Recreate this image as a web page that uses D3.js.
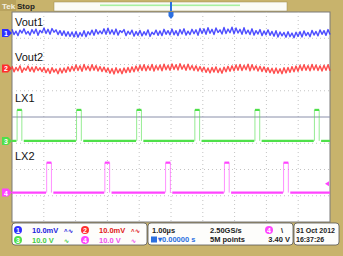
<!DOCTYPE html>
<html>
<head>
<meta charset="utf-8">
<script src="https://cdn.jsdelivr.net/npm/d3@7"></script>
<style>
  body { margin: 0; background: #c8b36c; }
  svg { display: block; font-family: "Liberation Sans", Arial, sans-serif; }
</style>
</head>
<body>
<svg id="scope"></svg>
<script>
// ripple on the two outputs, mV, one sample every 10/159 us across the screen
var vout1 = [
  1.4,-0.6,0.7,-1.0,1.1,0.0,1.6,-0.4,0.6,-0.8,1.3,-0.2,1.5,-0.9,1.0,0.1,
  1.9,-0.2,1.4,-0.5,1.7,0.3,1.2,-0.6,0.9,-0.9,0.8,-1.2,0.5,-1.3,0.4,-1.5,
  0.6,-1.6,0.2,-1.2,0.9,-1.4,0.5,-0.7,1.1,-0.9,1.3,-0.4,0.8,-0.3,1.6,-0.5,
  1.8,-0.4,1.2,-0.6,1.5,-0.8,0.9,0.2,1.3,-1.0,0.7,-0.5,1.1,-1.2,0.6,-0.9,
  1.0,-1.1,0.5,-0.8,1.2,-1.3,0.3,-0.6,1.1,-0.9,0.8,-1.0,1.4,-0.5,0.9,-0.7,
  1.5,-0.7,0.9,-1.0,1.3,-0.4,1.6,-0.8,0.7,-0.6,1.4,-0.3,1.2,-0.9,1.7,-0.2,
  1.6,-0.5,2.0,-0.1,1.4,-0.6,1.9,0.2,1.2,-0.4,2.1,-0.2,1.5,0.1,2.2,-0.3,
  1.9,0.0,1.4,-0.5,2.0,-0.3,1.1,-0.6,1.6,-0.8,0.9,-0.4,1.3,-1.0,0.8,-0.7,
  1.2,-0.9,0.6,-1.2,0.9,-1.5,0.4,-1.1,0.2,-1.6,0.5,-1.4,0.0,-1.8,0.3,-1.3,
  0.5,-1.5,0.8,-1.0,0.2,-1.4,1.0,-0.8,0.6,-1.1,1.2,-0.5,0.9,-0.9,1.3,-0.6
]
var vout2 = [
  0.8,-1.3,0.4,-0.9,1.0,-1.5,0.2,-0.7,0.9,-1.1,0.5,-1.4,0.7,-0.8,0.3,-1.2,
  0.4,-1.6,0.0,-1.9,0.3,-1.4,-0.2,-2.0,0.1,-1.7,0.2,-1.5,0.6,-1.2,0.8,-0.9,
  1.3,-0.8,1.0,-1.1,1.5,-0.6,0.9,-0.9,1.4,-0.7,1.1,-1.0,0.7,-1.2,0.5,-1.4,
  0.2,-1.8,0.0,-2.1,0.3,-1.7,-0.1,-2.0,0.2,-1.6,0.4,-1.5,0.6,-1.3,0.9,-1.0,
  1.2,-0.8,1.4,-0.9,1.0,-0.7,1.5,-1.0,1.1,-0.6,1.3,-0.9,1.6,-0.5,1.2,-0.7,
  1.7,-0.4,1.4,-0.6,1.8,-0.3,1.3,-0.7,1.6,-0.5,1.1,-0.8,1.0,-1.0,0.7,-1.2,
  0.5,-1.5,0.2,-1.7,0.4,-1.4,0.6,-1.6,0.1,-1.8,0.5,-1.3,0.8,-1.1,1.0,-0.9,
  1.3,-0.7,1.5,-0.8,1.2,-0.5,1.6,-0.9,1.4,-0.6,1.0,-1.0,0.8,-1.2,0.6,-1.4,
  0.3,-1.6,0.1,-1.9,0.2,-1.8,-0.1,-2.0,0.3,-1.7,0.4,-1.5,0.7,-1.3,0.9,-1.1,
  1.2,-0.8,1.4,-0.7,1.1,-0.9,1.5,-0.6,1.3,-0.8,1.0,-1.0,1.2,-0.7,1.4,-0.9
]

// switching nodes: rising edges in us, pulse width in us, levels in V
var lx1Edges = [-4.84, -2.97, -1.08, 0.75, 2.64, 4.51]
var lx2Edges = [-3.91, -2.08, -0.17, 1.68, 3.54]
var lx1High = 11.8, lx2High = 11.4
var pulseWidth = 0.15

// channel settings: volts (or mV) per division and position in divisions
var channels = [
  {id: "1", name: "Vout1", color: "#2e2eff", text: "#2222dd", perDiv: 10, pos: 3.2},
  {id: "2", name: "Vout2", color: "#ff2e2e", text: "#e01818", perDiv: 10, pos: 1.85},
  {id: "3", name: "LX1", color: "#4fe04a", text: "#44cc44", perDiv: 10, pos: -0.91},
  {id: "4", name: "LX2", color: "#ff44ff", text: "#f050f0", perDiv: 10, pos: -2.88}
]
var scaleLabels = ["10.0mV", "10.0mV", "10.0 V", "10.0 V"]
var triggerLevel = 3.40

var width = 343, height = 256
var plot = {left: 12, top: 12, right: 330, bottom: 222}

var svg = d3.select("#scope").attr("width", width).attr("height", height)

var xScale = d3.scaleLinear().domain([-5, 5]).range([plot.left, plot.right])
var yDiv = d3.scaleLinear().domain([-4, 4]).range([plot.bottom, plot.top])

function yOf(ch, v) { return yDiv(ch.pos + v / ch.perDiv) }

// khaki frame
svg.append("rect").attr("width", width).attr("height", height).attr("fill", "#c8b36c")

// top status bar
svg.append("rect").attr("x", 0).attr("y", 0).attr("width", 16).attr("height", 11).attr("fill", "#b9a35e")
svg.append("text").attr("x", 2).attr("y", 9).attr("font-size", 8).attr("font-weight", "bold")
  .attr("fill", "#f4f0e0").text("Tek")
svg.append("text").attr("x", 17).attr("y", 9).attr("font-size", 8).attr("font-weight", "bold")
  .attr("fill", "#222").text("Stop")
svg.append("rect").attr("x", 54).attr("y", 2).attr("width", 233).attr("height", 9)
  .attr("fill", "#fbfbf6").attr("stroke", "#9a8a50").attr("stroke-width", 0.5)
svg.append("rect").attr("x", 100).attr("y", 4.5).attr("width", 140).attr("height", 1.6).attr("fill", "#a8f0a0")

// graticule
var g = svg.append("g")
g.append("rect").attr("x", plot.left).attr("y", plot.top)
  .attr("width", plot.right - plot.left).attr("height", plot.bottom - plot.top)
  .attr("fill", "#ffffff").attr("stroke", "#7a7a7a").attr("stroke-width", 1)

g.selectAll(".vgrid").data(d3.range(-4, 5)).enter().append("line")
  .attr("x1", d => xScale(d)).attr("x2", d => xScale(d))
  .attr("y1", plot.top).attr("y2", plot.bottom)
  .attr("stroke", "#c4c4c4").attr("stroke-dasharray", "1,3")
g.selectAll(".hgrid").data(d3.range(-3, 4)).enter().append("line")
  .attr("y1", d => yDiv(d)).attr("y2", d => yDiv(d))
  .attr("x1", plot.left).attr("x2", plot.right)
  .attr("stroke", d => d === 0 ? "#8a90aa" : "#c4c4c4")
  .attr("stroke-dasharray", d => d === 0 ? null : "1,3")

// ripple traces
var dt = 10 / (vout1.length - 1)
var rippleLine = function (ch) {
  return d3.line().x((d, i) => xScale(-5 + i * dt)).y(d => yOf(ch, d))
}
g.append("path").datum(vout1).attr("d", rippleLine(channels[0]))
  .attr("fill", "none").attr("stroke", channels[0].color).attr("stroke-width", 1.4)
  .attr("stroke-linejoin", "round").attr("opacity", 0.85)
g.append("path").datum(vout2).attr("d", rippleLine(channels[1]))
  .attr("fill", "none").attr("stroke", channels[1].color).attr("stroke-width", 1.4)
  .attr("stroke-linejoin", "round").attr("opacity", 0.85)

// switching traces: thick flat parts, faint edges
function drawPulses(ch, edges, high) {
  var flat = [], vert = []
  var start = -5
  edges.forEach(function (e) {
    flat.push([[start, 0], [e - 0.02, 0]])
    flat.push([[e, high], [e + pulseWidth, high]])
    vert.push([[e, 0], [e, high]])
    vert.push([[e + pulseWidth, high], [e + pulseWidth, 0]])
    start = e + pulseWidth + 0.06
  })
  flat.push([[start, 0], [5, 0]])
  var line = d3.line().x(d => xScale(Math.min(5, d[0]))).y(d => yOf(ch, d[1]))
  g.selectAll(null).data(vert).enter().append("path").attr("d", line)
    .attr("stroke", ch.color).attr("stroke-width", 1).attr("opacity", 0.6).attr("fill", "none")
  g.selectAll(null).data(flat).enter().append("path").attr("d", line)
    .attr("stroke", ch.color).attr("stroke-width", 2.2).attr("fill", "none")
}
drawPulses(channels[2], lx1Edges, lx1High)
drawPulses(channels[3], lx2Edges, lx2High)

// trace labels
var labelY = [26, 61, 102, 160]
channels.forEach(function (ch, i) {
  g.append("text").attr("x", 15).attr("y", labelY[i]).attr("font-size", 11)
    .attr("fill", "#111").text(ch.name)
})

// channel ground markers on the left edge
channels.forEach(function (ch) {
  var y = yDiv(ch.pos)
  svg.append("path")
    .attr("d", `M2,${y - 4} L8,${y - 4} L12,${y} L8,${y + 4} L2,${y + 4} Z`)
    .attr("fill", ch.color)
  svg.append("text").attr("x", 6).attr("y", y + 3).attr("text-anchor", "middle")
    .attr("font-size", 7).attr("font-weight", "bold").attr("fill", "#fff").text(ch.id)
})

// trigger position marker (top) and trigger level marker (right)
var tx = xScale(0)
svg.append("rect").attr("x", tx - 1).attr("y", 2).attr("width", 2).attr("height", 9).attr("fill", "#2b6fe0")
svg.append("path").attr("d", `M${tx - 2.5},12 L${tx + 2.5},12 L${tx + 2.5},16 L${tx},19 L${tx - 2.5},16 Z`).attr("fill", "#2b6fe0")
var ty = yOf(channels[3], triggerLevel)
svg.append("path").attr("d", `M${plot.right - 1},${ty - 2.5} L${plot.right - 5},${ty} L${plot.right - 1},${ty + 2.5} Z`)
  .attr("fill", channels[3].color)

// readout panel
var panel = svg.append("g").attr("font-size", 7.5).attr("font-weight", "bold")
function box(x, w) {
  panel.append("rect").attr("x", x).attr("y", 223).attr("width", w).attr("height", 22)
    .attr("rx", 3).attr("fill", "#fdfdfb").attr("stroke", "#555").attr("stroke-width", 0.8)
}
box(12, 135); box(148, 145); box(294, 45)

function badge(x, y, ch) {
  panel.append("circle").attr("cx", x).attr("cy", y).attr("r", 4).attr("fill", ch.color)
  panel.append("text").attr("x", x).attr("y", y + 2.6).attr("text-anchor", "middle")
    .attr("font-size", 7).attr("fill", "#fff").text(ch.id)
}
var slots = [[18, 230], [85, 230], [18, 240], [85, 240]]
channels.forEach(function (ch, j) {
  var s = slots[j]
  badge(s[0], s[1], ch)
  panel.append("text").attr("x", s[0] + 14).attr("y", s[1] + 3).attr("fill", ch.text).text(scaleLabels[j])
  panel.append("text").attr("x", s[0] + 46).attr("y", s[1] + 3).attr("font-size", 6)
    .attr("fill", ch.text).text(j < 2 ? "\u02c4\u223f" : "\u223f")
})

panel.append("text").attr("x", 152).attr("y", 233).attr("fill", "#222").text("1.00µs")
panel.append("rect").attr("x", 151).attr("y", 236.5).attr("width", 6).attr("height", 6).attr("fill", "#2b6fe0")
panel.append("text").attr("x", 158).attr("y", 242).attr("fill", "#2b6fe0").text("▾0.00000 s")
panel.append("text").attr("x", 210).attr("y", 233).attr("fill", "#222").text("2.50GS/s")
panel.append("text").attr("x", 210).attr("y", 242).attr("fill", "#222").text("5M points")
badge(269, 230, channels[3])
panel.append("text").attr("x", 281).attr("y", 233).attr("fill", "#222").text("\\")
panel.append("text").attr("x", 290).attr("y", 242).attr("text-anchor", "end").attr("fill", "#222")
  .text(triggerLevel.toFixed(2) + " V")
panel.append("text").attr("x", 296).attr("y", 233).attr("font-size", 7).attr("fill", "#222").text("31 Oct  2012")
panel.append("text").attr("x", 296).attr("y", 242).attr("font-size", 7).attr("fill", "#222").text("16:37:26")
</script>
</body>
</html>
